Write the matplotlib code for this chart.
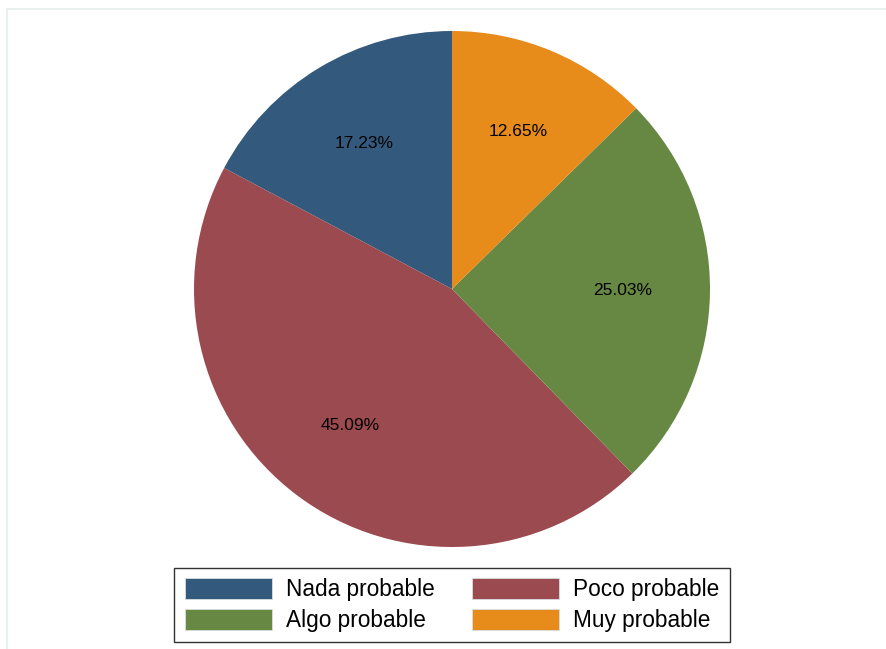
import matplotlib.pyplot as plt
from matplotlib.patches import Rectangle

# данные круговой диаграммы
categories = ["Nada probable", "Poco probable", "Algo probable", "Muy probable"]
shares = [17.23, 45.09, 25.03, 12.65]
colors = ["#335a7d", "#9b4a4f", "#678843", "#e78b1a"]

W, H = 886, 649
fig = plt.figure(figsize=(W / 100, H / 100), dpi=100)
plt.rcParams["font.family"] = ["Liberation Sans", "DejaVu Sans"]

# светлая рамка области графика
fig.patches.append(
    Rectangle((7 / W, -0.1), 1.2, (H - 9) / H + 0.1, transform=fig.transFigure,
              fill=False, edgecolor="#e6ecee", linewidth=1.2, zorder=0)
)

cx, cy, r = 452, 289, 258
ax = fig.add_axes([(cx - r) / W, (H - cy - r) / H, 2 * r / W, 2 * r / H])

wedges, texts, autotexts = ax.pie(
    shares,
    colors=colors,
    startangle=90,
    counterclock=True,
    autopct=lambda p: f"{p:.2f}%",
    pctdistance=0.66,
    wedgeprops=dict(linewidth=0),
    textprops=dict(fontsize=12.5, color="black"),
)
ax.set_xlim(-1, 1)
ax.set_ylim(-1, 1)
ax.set_aspect("equal")
ax.axis("off")

# легенда заполняется по строкам, как в Stata
order = [0, 2, 1, 3]
leg = fig.legend(
    [wedges[i] for i in order],
    [categories[i] for i in order],
    loc="center",
    bbox_to_anchor=(452 / W, 1 - 605 / H),
    ncol=2,
    fontsize=16.3,
    handlelength=3.85,
    handleheight=1.05,
    handletextpad=0.62,
    columnspacing=1.65,
    labelspacing=0.33,
    borderpad=0.45,
    borderaxespad=0,
    frameon=True,
    fancybox=False,
    shadow=False,
)
leg.get_frame().set_edgecolor("black")
leg.get_frame().set_linewidth(1.0)
for h in leg.legend_handles:
    h.set_edgecolor("#d8dde0")
    h.set_linewidth(0.6)

fig.savefig("out.png", dpi=100)
